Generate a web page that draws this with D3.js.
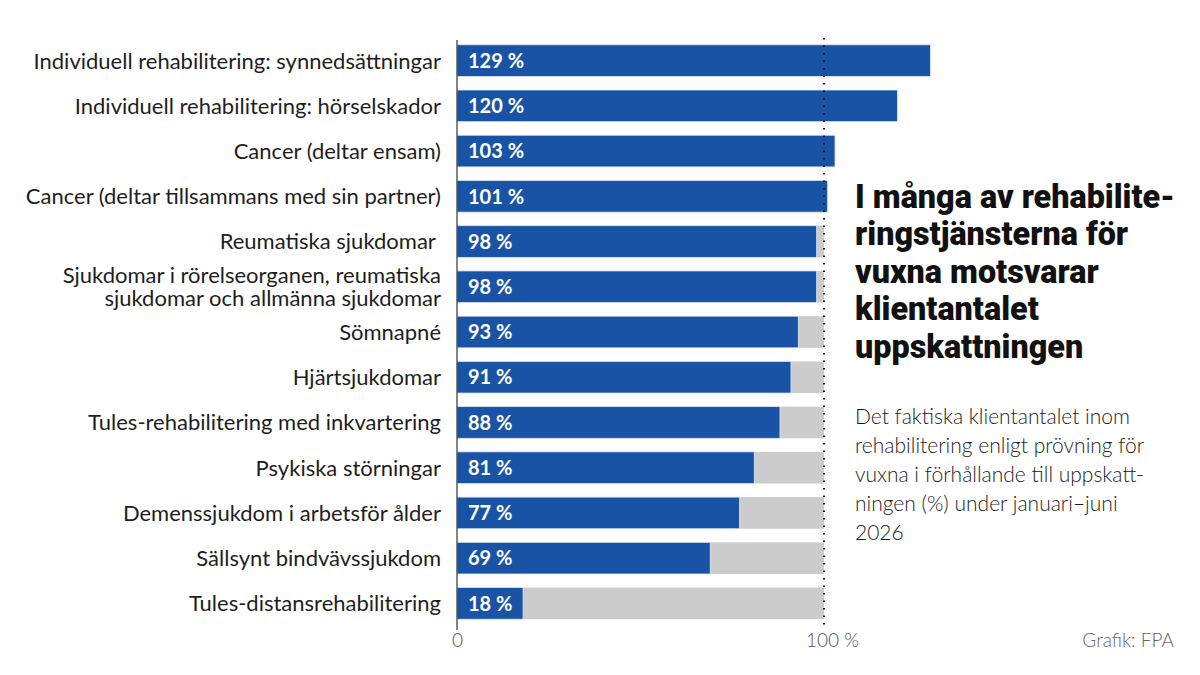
<!DOCTYPE html>
<html>
<head>
<meta charset="utf-8">
<script src="https://cdn.jsdelivr.net/npm/d3@7"></script>
<style>
  body { margin: 0; background: #fff; }
  svg { display: block; font-family: Lato, "Open Sans", sans-serif; }
</style>
</head>
<body>
<div id="chart"></div>
<script>
// data
var categories = [
  "Individuell rehabilitering: synnedsättningar",
  "Individuell rehabilitering: hörselskador",
  "Cancer (deltar ensam)",
  "Cancer (deltar tillsammans med sin partner)",
  "Reumatiska sjukdomar\u00a0",
  "Sjukdomar i rörelseorganen, reumatiska|sjukdomar och allmänna sjukdomar",
  "Sömnapné",
  "Hjärtsjukdomar",
  "Tules-rehabilitering med inkvartering",
  "Psykiska störningar",
  "Demenssjukdom i arbetsför ålder",
  "Sällsynt bindvävssjukdom",
  "Tules-distansrehabilitering"
];
var values = [129, 120, 103, 101, 98, 98, 93, 91, 88, 81, 77, 69, 18];
var tickValues = [0, 100];
var tickLabels = ["0", "100 %"];

var titleLines = ["I många av rehabilite-", "ringstjänsterna för", "vuxna motsvarar", "klientantalet", "uppskattningen"];
var subtitleLines = ["Det faktiska klientantalet inom", "rehabilitering enligt prövning för",
  "vuxna i förhållande till uppskatt-", "ningen (%) under januari\u2013juni", "2026"];
var source = "Grafik: FPA";

var width = 1200, height = 675;
var plotLeft = 457, plotTop = 38, plotBottom = 626;

var blue = "#1953a6", gray = "#cccccc", ink = "#1e1e1e";

var svg = d3.select("#chart").append("svg")
  .attr("width", width).attr("height", height);

var x = d3.scaleLinear().domain([0, 100]).range([plotLeft, 824]);
var y = d3.scaleBand().domain(categories).range([plotTop, plotBottom]).paddingInner(0.3).paddingOuter(0.15);

var rows = svg.append("g").selectAll("g.row")
  .data(categories).enter()
  .append("g").attr("class", "row");

// grey 100 % track
rows.append("rect")
  .attr("x", x(0))
  .attr("y", d => y(d))
  .attr("width", x(100) - x(0))
  .attr("height", y.bandwidth())
  .attr("fill", gray);

rows.append("rect")
  .attr("x", x(0))
  .attr("y", d => y(d))
  .attr("width", (d, i) => x(values[i]) - x(0))
  .attr("height", y.bandwidth())
  .attr("fill", blue)
  .attr("stroke", "#dfe7f4")
  .attr("stroke-width", 0.8);

rows.append("text")
  .attr("x", x(0) + 11)
  .attr("y", d => y(d) + y.bandwidth() / 2)
  .attr("dy", "0.36em")
  .attr("fill", "#fff")
  .attr("font-size", 20)
  .attr("font-weight", 700)
  .text((d, i) => values[i] + " %");

// category labels, right aligned
rows.append("text")
  .attr("text-anchor", "end")
  .attr("x", 441)
  .attr("y", d => y(d) + y.bandwidth() / 2)
  .attr("fill", ink)
  .attr("font-size", 22)
  .each(function(d) {
    var parts = d.split("|");
    var t = d3.select(this);
    parts.forEach(function(p, k) {
      t.append("tspan")
        .attr("x", 441)
        .attr("dy", k == 0 ? (0.36 - (parts.length - 1) * 0.52) + "em" : "1.04em")
        .text(p);
    });
  });

// dotted 100 % line
svg.append("line")
  .attr("x1", x(100)).attr("x2", x(100))
  .attr("y1", 38).attr("y2", 628)
  .attr("stroke", "#111")
  .attr("stroke-width", 2)
  .attr("stroke-dasharray", "1.5,6");

// axis
var xAxis = d3.axisBottom(x).tickValues(tickValues)
  .tickFormat((d, i) => tickLabels[i]).tickSize(0).tickPadding(6);

var ax = svg.append("g")
  .attr("transform", "translate(0," + 628 + ")")
  .call(xAxis);
ax.select(".domain").remove();
ax.selectAll("text")
  .attr("font-size", 19)
  .attr("font-weight", 300)
  .attr("fill", "#555")
  .attr("dx", d => d == 100 ? 8 : 0)
  .attr("font-family", "Lato, sans-serif");

svg.append("line")
  .attr("x1", x(0)).attr("x2", x(0))
  .attr("y1", 40).attr("y2", 630)
  .attr("stroke", "#333")
  .attr("stroke-width", 1.2);

// title block, squeezed horizontally to get a condensed look
var titleG = svg.append("g");
var title = titleG.append("text")
  .attr("x", 0).attr("y", 208)
  .attr("fill", "#111")
  .attr("font-family", "Roboto, sans-serif")
  .attr("font-weight", 900)
  .attr("font-size", 33);
title.selectAll("tspan").data(titleLines).enter()
  .append("tspan")
  .attr("x", 0)
  .attr("dy", (d, i) => i == 0 ? 0 : 37.5)
  .text(d => d);
var firstW = title.select("tspan").node().getComputedTextLength();
titleG.attr("transform", "translate(855,0) scale(" + (320 / firstW) + ",1)");

svg.append("text")
  .attr("x", 855).attr("y", 424)
  .attr("fill", ink)
  .attr("font-size", 21)
  .attr("font-weight", 300)
  .selectAll("tspan").data(subtitleLines).enter()
  .append("tspan")
  .attr("x", 855)
  .attr("dy", (d, i) => i == 0 ? 0 : 29)
  .text(d => d);

svg.append("text")
  .attr("x", 1174).attr("y", 647)
  .attr("text-anchor", "end")
  .attr("fill", "#666")
  .attr("font-size", 19)
  .attr("font-weight", 300)
  .text(source);
</script>
</body>
</html>
